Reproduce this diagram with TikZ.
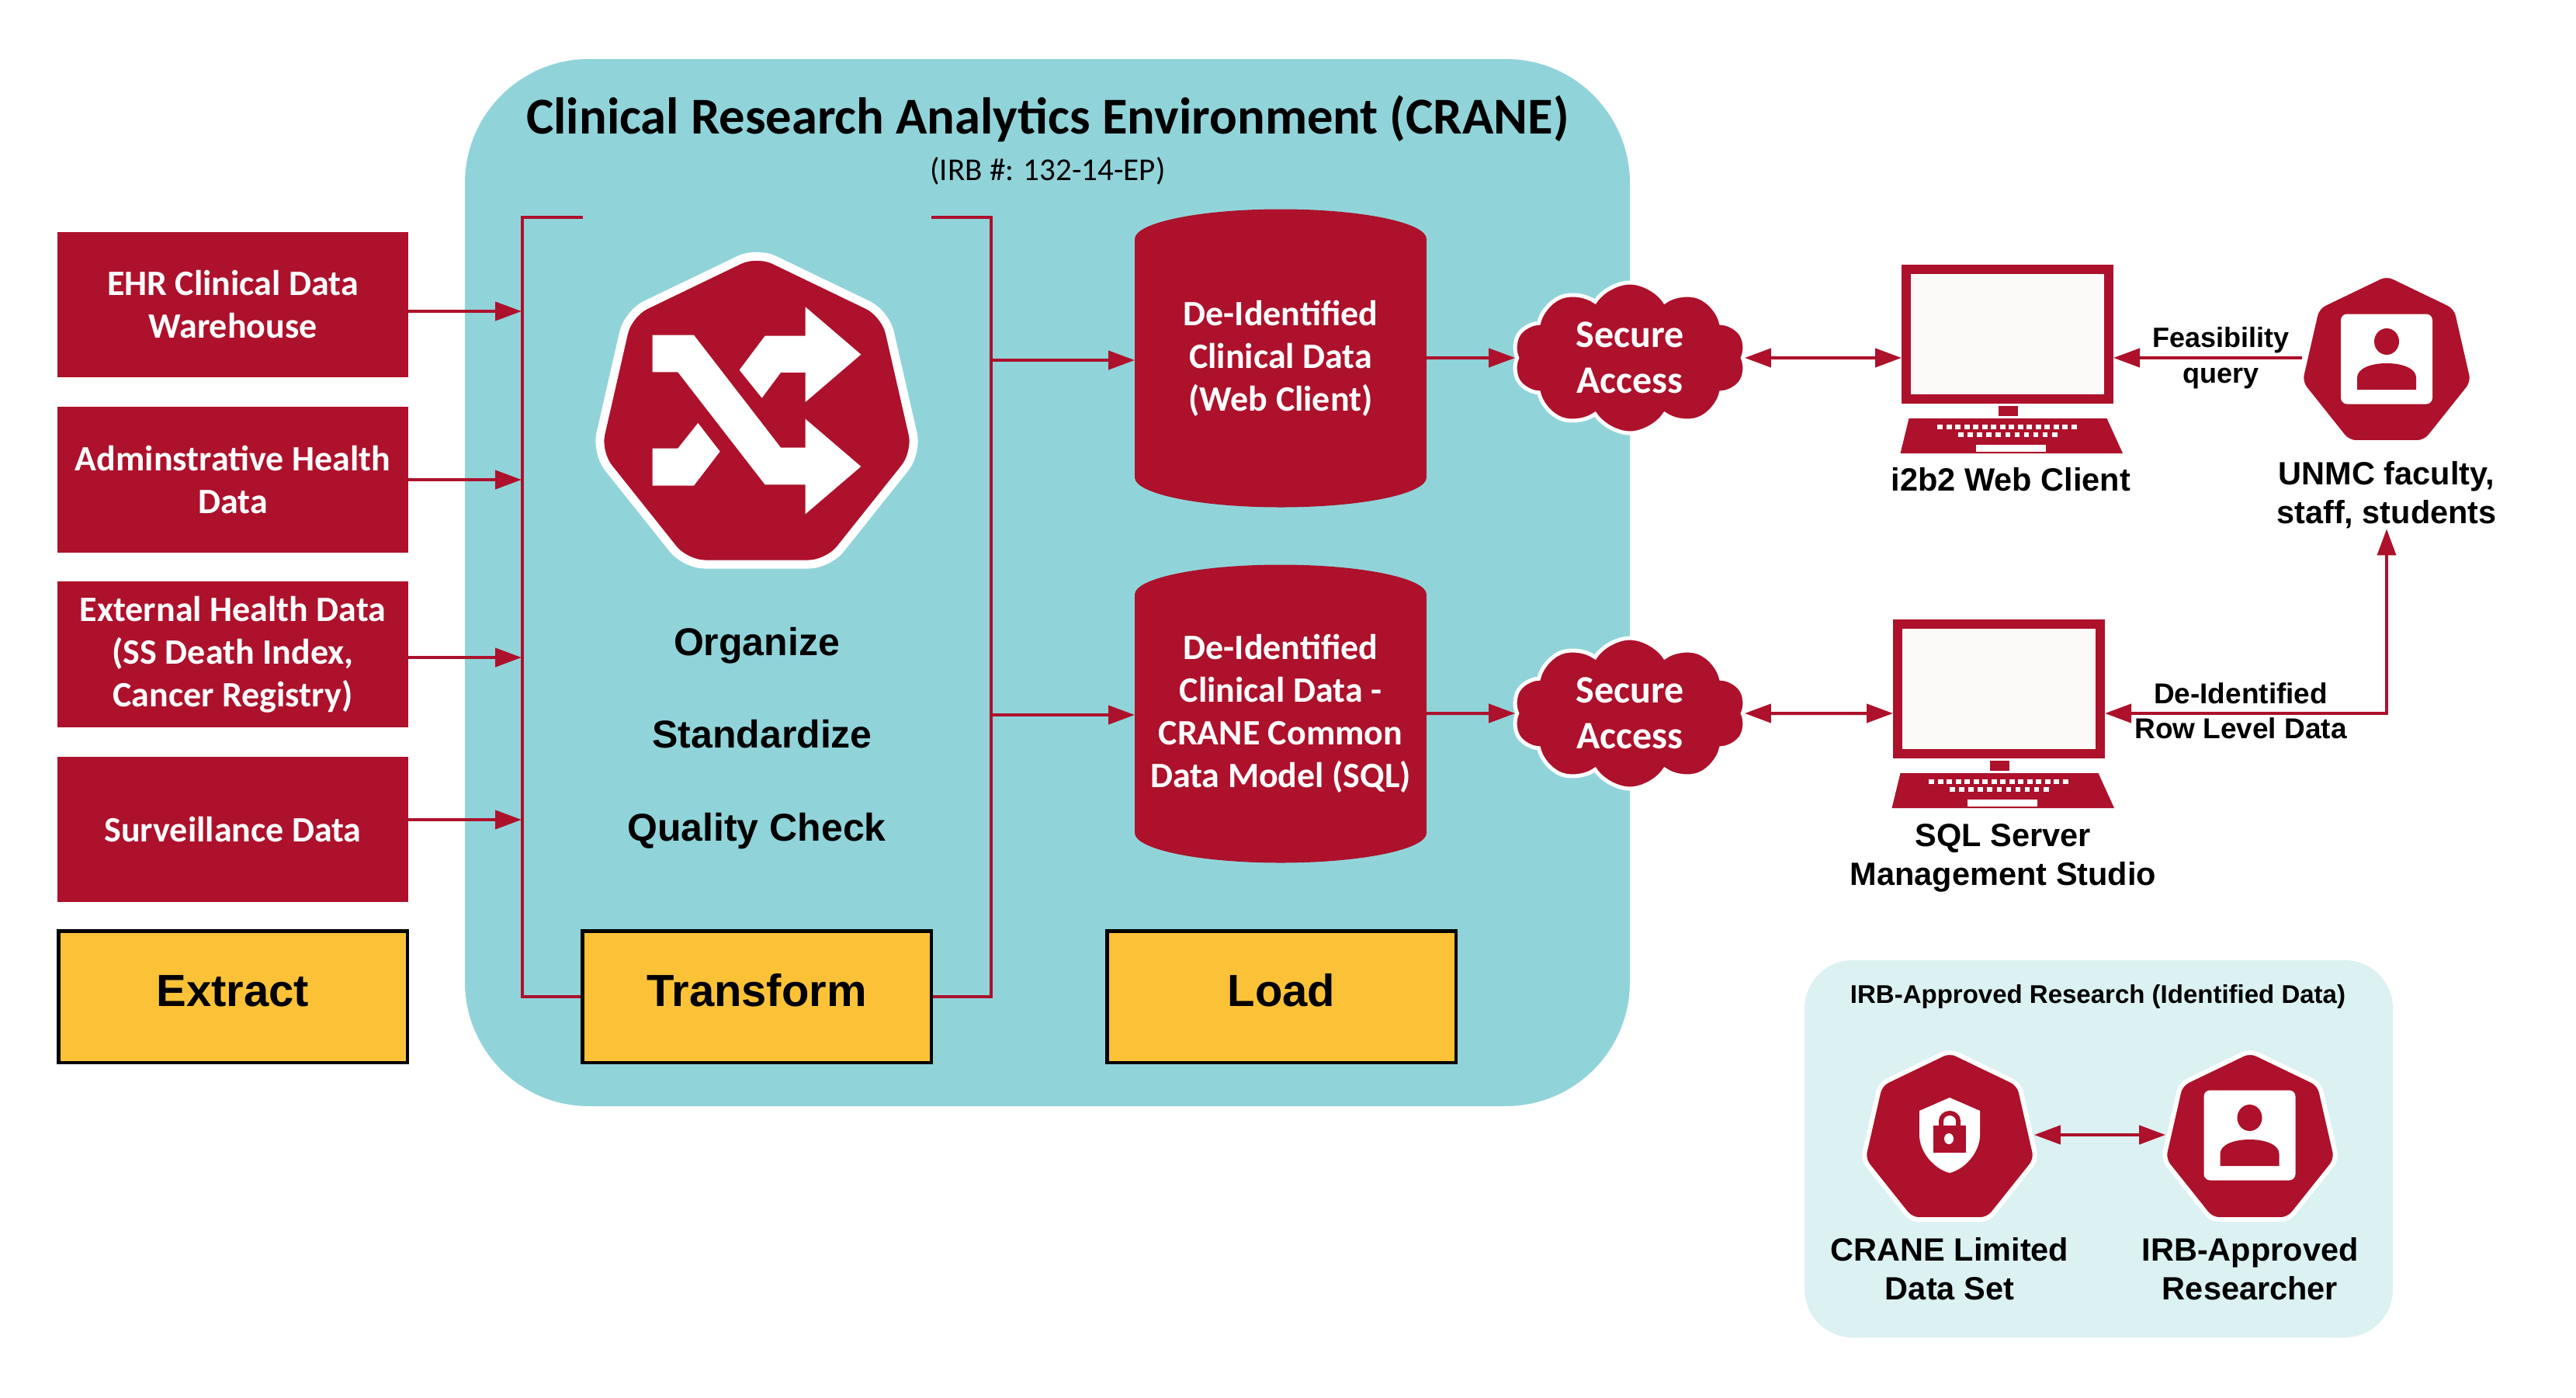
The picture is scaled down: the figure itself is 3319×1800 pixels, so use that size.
\documentclass[tikz,border=0pt]{standalone}
\usepackage{fontspec}
\setmainfont{Liberation Sans}
\newfontfamily\cranefont{Carlito}
\usepackage{xcolor}
\usetikzlibrary{arrows.meta,positioning,shapes.geometric,shapes.symbols}
\definecolor{craneRed}{HTML}{AD112B}
\definecolor{craneTeal}{HTML}{90D4DA}
\definecolor{cranePale}{HTML}{DBF1F2}
\definecolor{craneGold}{HTML}{FCC237}
\definecolor{craneScreen}{HTML}{FBFAF9}

\begin{document}
\begin{tikzpicture}[
    x=1pt,y=-1pt,
    node distance=37.8pt,
    srcbox/.style={fill=craneRed,text=white,minimum width=452pt,minimum height=187.5pt,outer sep=0pt,
      align=center,font=\cranefont\bfseries\fontsize{46}{55}\selectfont},
    stagebox/.style={fill=craneGold,draw=black,line width=4.5pt,minimum width=449.5pt,minimum height=169.5pt,
      text height=42pt,text depth=18pt,font=\bfseries\fontsize{58}{68}\selectfont},
    dbase/.style={fill=craneRed,minimum width=376pt,minimum height=307pt,outer sep=0pt,inner sep=0pt,
      text=white,align=center,font=\cranefont\bfseries\fontsize{46}{55}\selectfont},
    gate/.style={cloud,cloud puffs=10,cloud puff arc=115,aspect=1.55,fill=craneRed,draw=white,line width=5pt,
      minimum width=302pt,minimum height=194pt,inner sep=0pt,text=white,align=center,
      font=\cranefont\bfseries\fontsize{50}{59}\selectfont},
    hept/.style={regular polygon,regular polygon sides=7,fill=craneRed,draw=white,line width=6pt,
      minimum size=229pt,rounded corners=10pt,inner sep=0pt},
    lbl/.style={align=center,inner sep=0pt,font=\bfseries\fontsize{41.5}{50}\selectfont},
    steplbl/.style={inner sep=0pt,font=\bfseries\fontsize{50}{60}\selectfont},
    wire/.style={draw=craneRed,line width=4pt},
    flow/.style={wire,-{Triangle[length=34pt,width=24pt]}},
    both/.style={wire,{Triangle[length=34pt,width=24pt]}-{Triangle[length=34pt,width=24pt]}},
    laptop/.pic={
      \node[draw=craneRed,fill=craneScreen,line width=12pt,minimum width=261pt,minimum height=167pt] (-screen) at (0,0) {};
      \fill[craneRed] (-11.5,92.5) rectangle (13.5,105.5);
      \fill[craneRed] (-127,108.5) -- (128,108.5) -- (148.5,153.5) -- (-138,153.5) -- cycle;
      \foreach \k in {0,...,15} \fill[white] ({-90.5+\k*11.5},116.5) rectangle ++(7,6);
      \foreach \k in {0,...,10} \fill[white] ({-63.5+\k*12.1},126.5) rectangle ++(6.5,6);
      \fill[white] (-40.5,142.5) rectangle (49.5,151.5);
    },
    idcard/.pic={
      \fill[white,rounded corners=8pt] (-59,-58) rectangle (59,58);
      \fill[craneRed] (0,-22.5) ellipse [x radius=16pt,y radius=17pt];
      \fill[craneRed] (-38,39.5) -- (-38,24) .. controls (-38,12) and (-20,5.5) .. (0,5.5)
        .. controls (20,5.5) and (38,12) .. (38,24) -- (38,39.5) -- cycle;
    }]
  \useasboundingbox (0,0) rectangle (3319,1800);
  % CRANE panel
  \node[fill=craneTeal,rounded corners=160pt,minimum width=1501pt,minimum height=1349pt,outer sep=0pt] (crane) at (1349.5,750.5) {};
  \node[font=\cranefont\bfseries\fontsize{66.6}{78}\selectfont,inner sep=0pt] (title) at (1350,153) {Clinical Research Analytics Environment (CRANE)};
  \node[font=\cranefont\fontsize{41}{50}\selectfont,inner sep=0pt] (irb) at (1350,220) {(IRB \#: 132-14-EP)};
  % sources
  \node[srcbox] (ehr) at (300,392.5) {EHR Clinical Data\\Warehouse};
  \node[srcbox,below=of ehr] (adm) {Adminstrative Health\\Data};
  \node[srcbox,below=of adm] (ext) {External Health Data\\(SS Death Index,\\Cancer Registry)};
  \node[srcbox,below=of ext] (surv) {Surveillance Data};
  \node[stagebox,below=35pt of surv] (extract) {Extract};
  \node[stagebox,right=221pt of extract] (tfm) {Transform};
  \node[stagebox,right=222pt of tfm] (load) {Load};
  % transform bracket
  \coordinate (brtl) at (751,280);
  \coordinate (brtr) at (1200,280);
  \coordinate (brl) at (673,280);
  \coordinate (brr) at (1277,280);
  \draw[wire] (brtl) -- (brl) |- (tfm.west);
  \draw[wire] (brtr) -- (brr) |- (tfm.east);
  \coordinate (in1) at (672,401);
  \coordinate (in2) at (672,618);
  \coordinate (in3) at (672,847);
  \coordinate (in4) at (672,1056);
  \draw[flow] (in1 -| ehr.east) -- (in1);
  \draw[flow] (in2 -| adm.east) -- (in2);
  \draw[flow] (in3 -| ext.east) -- (in3);
  \draw[flow] (in4 -| surv.east) -- (in4);
  % shuffle mark
  \node[hept,minimum size=424pt,line width=11pt,rounded corners=25pt] (mark) at (975,536) {};
  \begin{scope}[shift={(720,280)},x=.3333pt,y=-.3333pt]
    \fill[white] (362,455) -- (522,455) -- (858,890) -- (953,890) -- (953,779) -- (1168,963) -- (953,1147)
      -- (953,1033) -- (797,1033) -- (460,598) -- (362,598) -- cycle;
    \fill[white] (698,590) -- (797,458) -- (953,458) -- (953,346) -- (1168,530) -- (953,714) -- (953,600)
      -- (858,600) -- (785,698) -- cycle;
    \fill[white] (362,893) -- (460,893) -- (538,795) -- (623,905) -- (522,1037) -- (362,1037) -- cycle;
  \end{scope}
  \node[steplbl] (org) at (975,832) {Organize};
  \node[steplbl] (std) at (982,946) {Standardize};
  \node[steplbl] (qc) at (975,1071) {Quality Check};
  % databases
  \node[dbase] (db1) at (1650,461.5) {De-Identified\\Clinical Data\\(Web Client)};
  \node[dbase] (db2) at (1650,919.5) {De-Identified\\Clinical Data -\\CRANE Common\\Data Model (SQL)};
  \foreach \d in {db1,db2} {
    \fill[craneRed] (\d.north) ellipse [x radius=188pt,y radius=38.5pt];
    \fill[craneRed] (\d.south) ellipse [x radius=188pt,y radius=38.5pt];
  }
  % secure access
  \node[gate] (sec1) at (2100,461) {Secure\\Access};
  \node[gate] (sec2) at (2100,919) {Secure\\Access};
  \coordinate (out1) at (1277,464);
  \coordinate (out2) at (1277,921);
  \draw[flow] (out1) -- (out1 -| db1.west);
  \draw[flow] (out2) -- (out2 -| db2.west);
  \draw[flow] (sec1 -| db1.east) -- (sec1.west);
  \draw[flow] (sec2 -| db2.east) -- (sec2.west);
  % clients
  \pic (web) at (2586.5,430.5) {laptop};
  \pic (sql) at (2575.5,887.5) {laptop};
  \node[lbl] (webt) at (2591,618) {i2b2 Web Client};
  \node[lbl] (sqlt) at (2581,1105) {SQL Server\\Management Studio};
  \draw[both] (sec1.east) -- (sec1 -| web-screen.west);
  \draw[both] (sec2.east) -- (sec2 -| sql-screen.west);
  % users
  \node[hept] (uhept) at (3075,467) {};
  \pic at (3075,462.5) {idcard};
  \node[lbl] (unmc) at (3075,638) {UNMC faculty,\\staff, students};
  \draw[flow] (sec1 -| uhept.west) -- (sec1 -| web-screen.east);
  \draw[both] (unmc.south) |- (sec2 -| sql-screen.east);
  \node[lbl,font=\bfseries\fontsize{36}{46}\selectfont] (feas) at (2861,461) {Feasibility\\query};
  \node[lbl,font=\bfseries\fontsize{37}{45}\selectfont] (rowl) at (2887,916) {De-Identified\\Row Level Data};
  % identified data
  \node[fill=cranePale,rounded corners=62pt,minimum width=758pt,minimum height=486pt,outer sep=0pt] (irbp) at (2704,1480) {};
  \node[lbl,font=\bfseries\fontsize{33}{40}\selectfont] (irbt) at (2703,1284) {IRB-Approved Research (Identified Data)};
  \node[hept] (lds) at (2512,1468) {};
  \node[hept] (rsr) at (2899,1468) {};
  \pic at (2898.5,1462.5) {idcard};
  \fill[white] (2512,1414) -- (2551,1431) -- (2551,1462) .. controls (2551,1484) and (2532,1506) .. (2512,1511)
    .. controls (2492,1506) and (2473,1484) .. (2473,1462) -- (2473,1431) -- cycle;
  \fill[craneRed] (2491,1450) rectangle (2533,1485);
  \draw[craneRed,line width=6pt] (2501,1450) -- (2501,1444) arc[start angle=180,end angle=0,x radius=11pt,y radius=10pt] -- (2523,1450);
  \fill[white] (2511,1467) ellipse [x radius=6pt,y radius=7pt];
  \node[lbl] (ldst) at (2512,1635) {CRANE Limited\\Data Set};
  \node[lbl] (rsrt) at (2899,1635) {IRB-Approved\\Researcher};
  \draw[both] (lds.east |- 0,1462) -- (rsr.west |- 0,1462);
\end{tikzpicture}
\end{document}
